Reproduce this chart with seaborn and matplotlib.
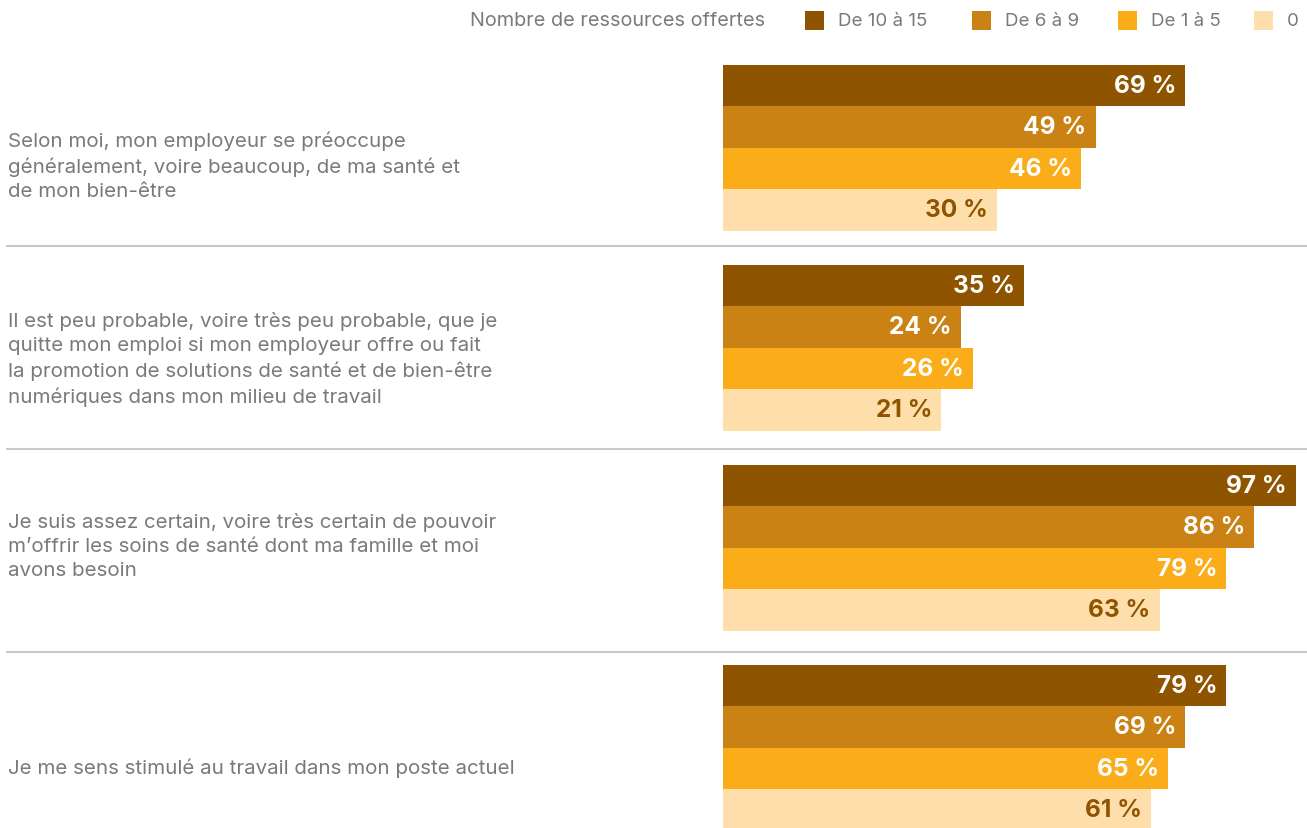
import numpy as np
import pandas as pd
import matplotlib
matplotlib.use("Agg")
import matplotlib.pyplot as plt
import matplotlib.transforms as mtransforms
from matplotlib.patches import Rectangle
import seaborn as sns

# ---------------- data ----------------
questions = [
    "Selon moi, mon employeur se préoccupe\ngénéralement, voire beaucoup, de ma santé et\nde mon bien-être",
    "Il est peu probable, voire très peu probable, que je\nquitte mon emploi si mon employeur offre ou fait\nla promotion de solutions de santé et de bien-être\nnumériques dans mon milieu de travail",
    "Je suis assez certain, voire très certain de pouvoir\nm’offrir les soins de santé dont ma famille et moi\navons besoin",
    "Je me sens stimulé au travail dans mon poste actuel",
]
groups = ["De 10 à 15", "De 6 à 9", "De 1 à 5", "0"]
legend_title = "Nombre de ressources offertes"
vals_10_15 = [69, 35, 97, 79]
vals_6_9 = [49, 24, 86, 69]
vals_1_5 = [46, 26, 79, 65]
vals_0 = [30, 21, 63, 61]

# ---------------- style ----------------
colors = ["#8F5400", "#C98213", "#FAAC19", "#FEDEAB"]
label_colors = ["white", "white", "white", "#8F5400"]
text_gray = "#7A7A7A"
line_gray = "#C8C8C8"

sns.set_theme(style="white")
plt.rcParams["font.family"] = ["Inter", "DejaVu Sans"]

W, H = 1307, 829
fig = plt.figure(figsize=(W / 100, H / 100), dpi=100)

ax_left, ax_right = 723, 1307
ax_top, ax_bottom = 48.5, 828.5
ax = fig.add_axes([ax_left / W, 1 - ax_bottom / H, (ax_right - ax_left) / W, (ax_bottom - ax_top) / H])

df = pd.DataFrame({
    "question": questions * 4,
    "group": sum([[g] * len(questions) for g in groups], []),
    "value": vals_10_15 + vals_6_9 + vals_1_5 + vals_0,
})

sns.barplot(data=df, y="question", x="value", hue="group", order=questions,
            hue_order=groups, palette=colors, orient="h", width=0.83,
            saturation=1, linewidth=0, legend=False, ax=ax)

# compressed value scale as in the reference graphic
P = 0.63
ax.set_xscale("function", functions=(lambda v: np.sign(v) * np.abs(v) ** P,
                                     lambda v: np.sign(v) * np.abs(v) ** (1 / P)))
ax.set_xlim(0, 100)
ax.set_ylim(3.4, -0.5)
ax.set_yticks([])
ax.set_xticks([])
ax.set_xlabel("")
ax.set_ylabel("")
for s in ax.spines.values():
    s.set_visible(False)

# value labels inside bar ends
for cont, lc in zip(ax.containers, label_colors):
    for rect in cont:
        v = rect.get_width()
        yc = rect.get_y() + rect.get_height() / 2
        ax.annotate(f"{v:.0f} %", xy=(v, yc), xytext=(-9, 0), textcoords="offset pixels",
                    ha="right", va="center", fontsize=17.6, fontweight="bold", color=lc)

# question labels at left
trans = mtransforms.blended_transform_factory(fig.transFigure, ax.transData)
label_dy = [0.09, 0.055, -0.01, 0.1]
for i, (q, dy) in enumerate(zip(questions, label_dy)):
    ax.text(8 / W, i + dy, q, transform=trans, ha="left", va="center",
            fontsize=14.8, color=text_gray, linespacing=1.44)

# separators
sep_dy = [-0.0075, 0.006, 0.021]
for i, dy in enumerate(sep_dy):
    ax.axhline(i + 0.5 + dy, xmin=(7 - ax_left) / (ax_right - ax_left), xmax=1,
               color=line_gray, lw=1.5, clip_on=False)

# legend (manual, top right)
ly = 21
fig.text(765 / W, 1 - ly / H, legend_title, ha="right", va="center",
         fontsize=14.3, color=text_gray)
sq_x = [805, 972, 1118, 1254]
sq = 19
for x, g, c in zip(sq_x, groups, colors):
    fig.add_artist(Rectangle((x / W, 1 - (ly + sq / 2) / H), sq / W, sq / H,
                             transform=fig.transFigure, facecolor=c, edgecolor="none"))
    fig.text((x + sq + 14) / W, 1 - ly / H, g, ha="left", va="center",
             fontsize=13.5, color=text_gray)

fig.savefig("out.png", dpi=100)
